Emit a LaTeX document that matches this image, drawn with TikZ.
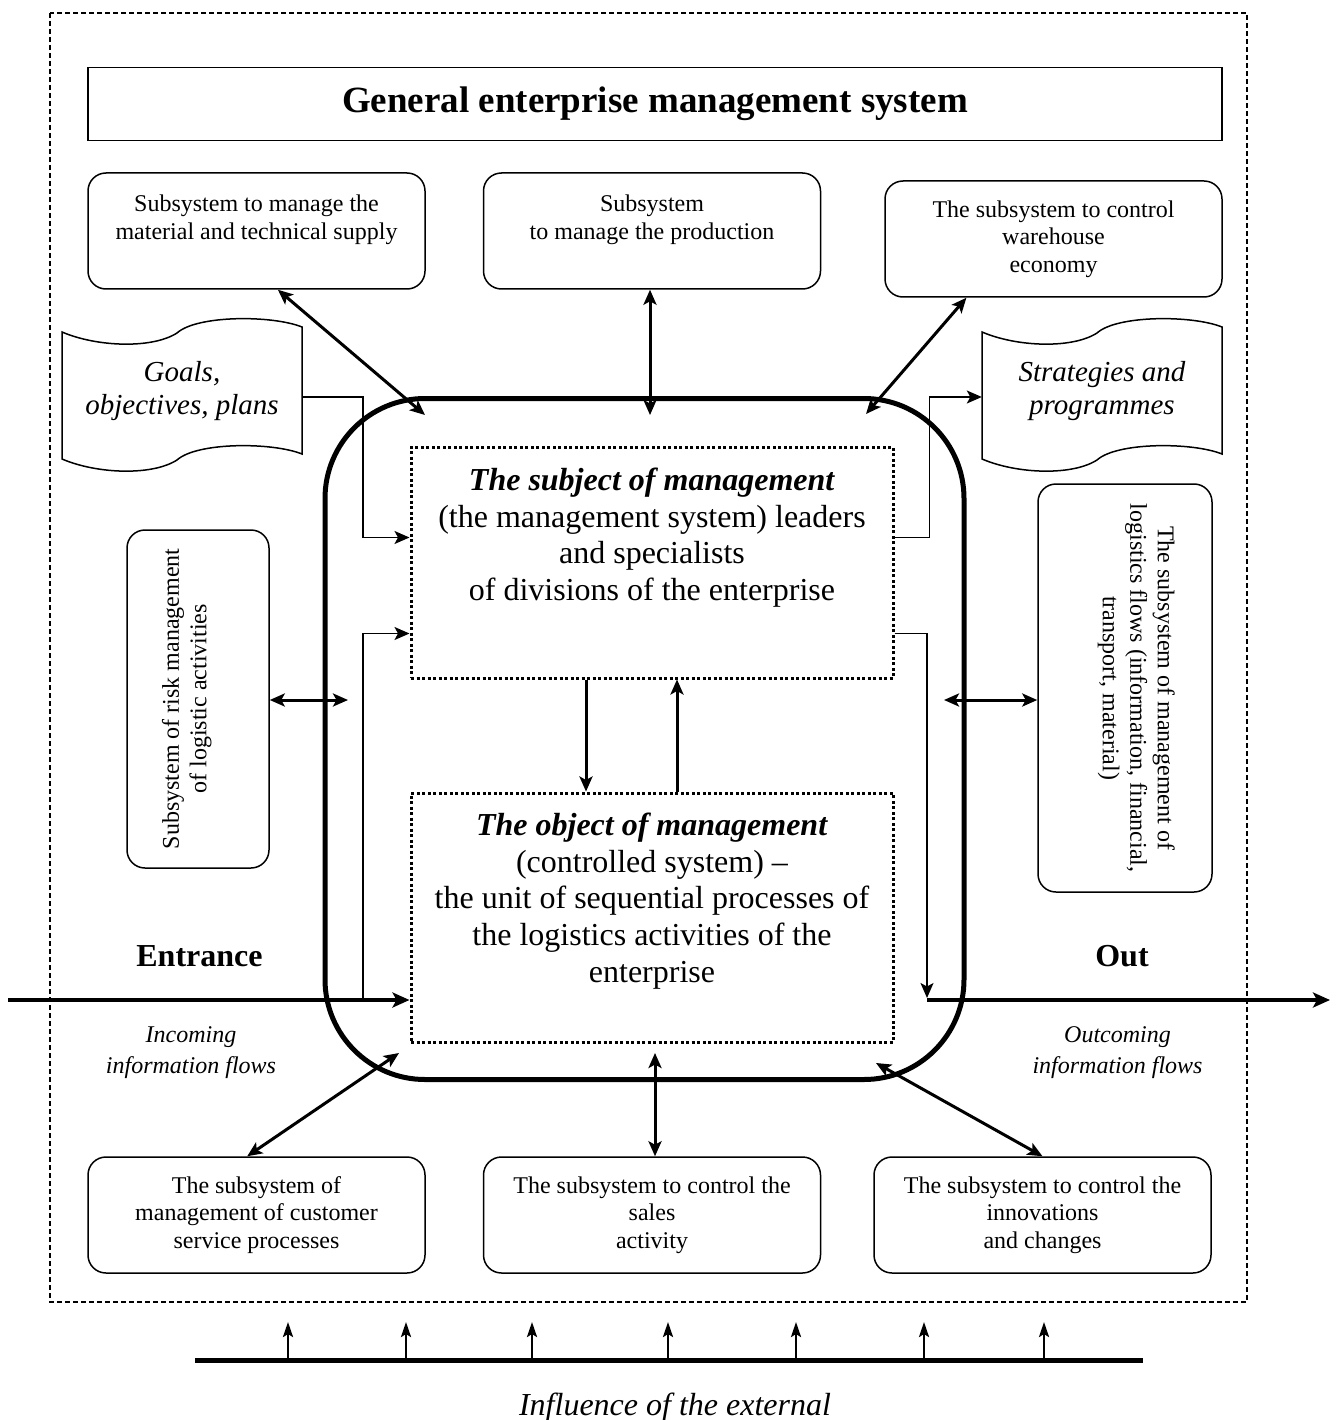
\documentclass[tikz,border=0pt]{standalone}
\usepackage{fontspec}
\setmainfont{Liberation Serif}
\usetikzlibrary{arrows.meta, positioning}

% wavy sheet round a document node
\newcommand{\tapeline}[1]{\draw[line width=1.5pt, shift={([yshift=-4pt]#1)}] (-120,-63) .. controls (-85,-48) and (-30,-46) .. (-5,-62) .. controls (15,-80) and (90,-80) .. (120,-68) -- (120,59) .. controls (90,47) and (15,47) .. (-5,65) .. controls (-30,81) and (-85,79) .. (-120,64) -- cycle;}

\begin{document}
\begin{tikzpicture}[x=1pt, y=-1pt]
	\tikzset{>={Stealth[length=15pt, width=13pt, inset=3.5pt]},
		box/.style={draw, line width=1.5pt, rounded corners=18pt, align=center, minimum width=337pt, minimum height=116pt, font=\fontsize{24}{27.6}\selectfont},
		sidebox/.style={box, minimum width=338pt, minimum height=142pt},
		core/.style={draw, line width=3pt, dash pattern=on 3pt off 2.5pt, minimum width=482pt},
		coretext/.style={align=center, inner sep=0pt, font=\fontsize{32}{36.8}\selectfont},
		flag/.style={minimum width=240pt, align=center, font=\fontsize{29}{33}\selectfont\itshape},
		link/.style={line width=1.5pt, ->},
		twin/.style={line width=3pt, <->},
		flowline/.style={line width=4pt, -{Stealth[length=17pt, width=15pt, inset=4pt]}},
		note/.style={align=center, font=\fontsize{24}{31}\selectfont\itshape},
		headline/.style={anchor=base, font=\fontsize{32}{36}\selectfont\bfseries}}

	\useasboundingbox (0,0) rectangle (1336,1420);
	\draw[line width=1.5pt, dash pattern=on 5pt off 3pt] (50,13) rectangle (1247,1302);

	% top row
	\node[draw, line width=1.5pt, minimum width=1134pt, minimum height=73pt, font=\fontsize{37}{42}\selectfont\bfseries] (t) at (655,104) {General enterprise management system};
	\node[box] (b1) at (256.5,231) {Subsystem to manage the\\material and technical supply\\\mbox{}};
	\node[box] (b2) at (652,231) {Subsystem\\to manage the production\\\mbox{}};
	\node[box] (b3) at (1053.5,239) {The subsystem to control\\warehouse\\economy};

	% documents
	\node[flag] (g) at (182,391) {Goals,\\objectives, plans};
	\node[flag] (sp) at (1102,391) {Strategies and\\programmes};
	\tapeline{g.center}
	\tapeline{sp.center}

	% core
	\node[draw, line width=5pt, rounded corners=100pt, minimum width=639pt, minimum height=681pt] (big) at (644.5,739) {};
	\node[core, minimum height=231pt] (s) at (652,562.5) {};
	\node[coretext, below=22pt of s.north] (st) {\textbf{\textit{The subject of management}}\\(the management system) leaders\\and specialists\\of divisions of the enterprise};
	\node[core, minimum height=249pt] (o) at (652,917.5) {};
	\node[coretext, below=21pt of o.north] (ot) {\textbf{\textit{The object of management}}\\(controlled system) –\\the unit of sequential processes of\\the logistics activities of the\\enterprise};

	% sides
	\node[sidebox, rotate=90] (r) at (198,699) {Subsystem of risk management\\of logistic activities\\\mbox{}};
	\node[sidebox, rotate=-90, minimum width=408pt, minimum height=174pt] (l) at (1125,688) {The subsystem of management of\\logistics flows (information, financial,\\transport, material)\\\mbox{}};

	% bottom row
	\node[box] (d1) at (256.5,1215) {The subsystem of\\management of customer\\service processes};
	\node[box] (d2) at (652,1215) {The subsystem to control the\\sales\\activity};
	\node[box] (d3) at (1042.5,1215) {The subsystem to control the\\innovations\\and changes};

	\node[headline] (en) at (199.5,966) {Entrance};
	\node[headline] (ex) at (1122,966) {Out};
	\node[note] (ni) at (191,1053) {Incoming\\information flows};
	\node[note] (no) at (1117.5,1053) {Outcoming\\information flows};

	% connectors
	\coordinate (c1) at (425,415);
	\coordinate (c2) at (650,415);
	\coordinate (c3) at (866,414);
	\coordinate (c4) at (399,1053);
	\coordinate (c5) at (655,1053);
	\coordinate (c6) at (876,1063);
	\coordinate (c7) at (348,700);
	\coordinate (c8) at (944,700);
	\draw[twin] (b1.-70) -- (c1);
	\draw[twin] (b2.south -| c2) -- (c2);
	\draw[twin] (b3.214) -- (c3);
	\draw[twin] (d1.99) -- (c4);
	\draw[twin] (d2.north -| c5) -- (c5);
	\draw[twin] (d3.north) -- (c6);
	\draw[twin] (r.south |- c7) -- (c7);
	\draw[twin] (l.south |- c8) -- (c8);
	\draw[line width=3pt, ->] ([xshift=-66pt]s.south) -- ([xshift=-66pt]o.north);
	\draw[line width=3pt, ->] ([xshift=25pt]o.north) -- ([xshift=25pt]s.south);

	\coordinate (ein) at (8,1000);
	\coordinate (j1) at (363,1000);
	\coordinate (j2) at (927,998);
	\coordinate (eout) at (1330,1000);
	\draw[flowline] (ein) -- (o.west |- ein);
	\draw[link] ([yshift=-6pt]g.east) -- ++(61,0) |- ([yshift=25pt]s.west);
	\draw[link] (j1) |- ([yshift=-71pt]s.west);
	\draw[link] ([yshift=25pt]s.east) -- ++(35,0) |- ([yshift=-6pt]sp.west);
	\draw[link] ([yshift=-71pt]s.east) -| (j2);
	\draw[flowline] (j2 |- eout) -- (eout);

	% environment
	\coordinate (w1) at (195,1360);
	\coordinate (w2) at (1143,1360);
	\draw[line width=5pt] (w1) -- (w2);
	\foreach \x in {288,406,532,668,796,924,1044}
		\draw[line width=2.5pt, -{Stealth[length=15pt, width=10pt, inset=3pt]}] (w1 -| \x,0) -- ++(0,-38);
	\node[font=\fontsize{32}{36}\selectfont\itshape, anchor=base] (inf) at (675,1415) {Influence of the external};
\end{tikzpicture}
\end{document}
